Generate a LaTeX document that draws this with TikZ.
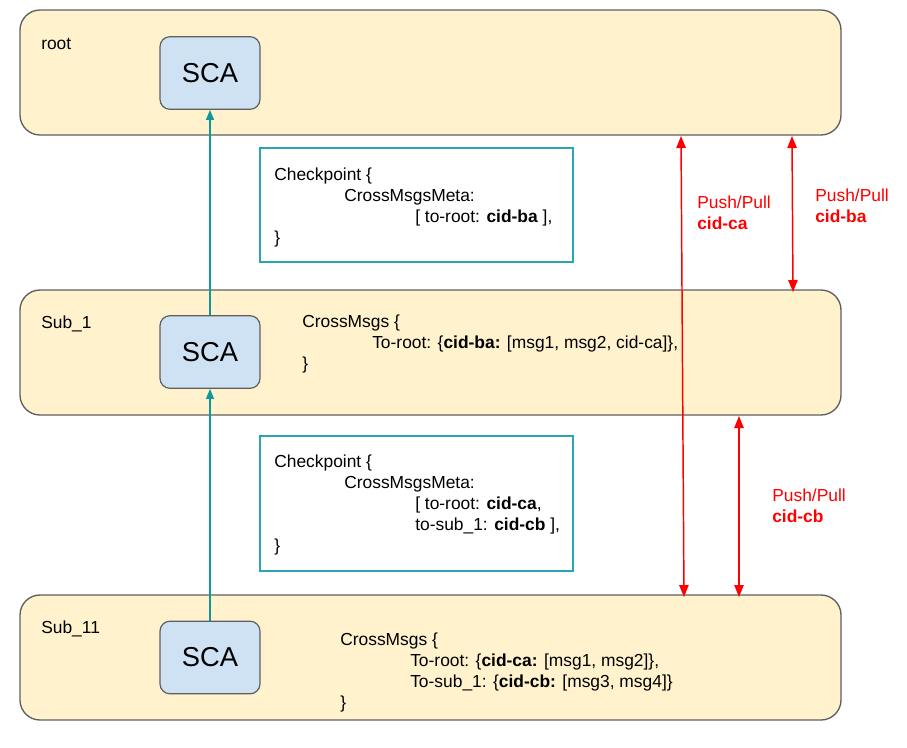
\documentclass[tikz,border=0pt]{standalone}
\usepackage{fontspec}
\setmainfont{Liberation Sans}
\usetikzlibrary{arrows.meta}
\definecolor{lanefill}{HTML}{FFF2CC}
\definecolor{lanedraw}{HTML}{5F5F5F}
\definecolor{scafill}{HTML}{CFE2F3}
\definecolor{tealarrow}{HTML}{10989F}
\definecolor{tealbox}{HTML}{2AA5B5}
\definecolor{pushred}{HTML}{FF0000}
\tikzset{
  lane/.style={draw=lanedraw, fill=lanefill, line width=1pt, rounded corners=15pt},
  scabox/.style={draw=lanedraw, fill=scafill, line width=0.9pt, rounded corners=7.5pt},
  cpbox/.style={draw=tealbox, fill=white, line width=1pt},
  txt/.style={anchor=base west, inner sep=0pt, font=\fontsize{13.05}{15}\selectfont},
  redtxt/.style={txt, text=pushred},
  scatxt/.style={inner sep=0pt, font=\fontsize{20.5}{24}\selectfont},
  upar/.style={draw=tealarrow, line width=1.1pt, -{Triangle[length=7.5pt,width=6pt]}},
  redar/.style={draw=pushred, line width=1.1pt, {Triangle[length=9pt,width=7pt]}-{Triangle[length=9pt,width=7pt]}}
}
\begin{document}
\begin{tikzpicture}[x=0.75pt,y=-0.75pt]
\useasboundingbox (0,0) rectangle (907,747);
% lanes
\path[lane] (20,10) rectangle (841,135);
\path[lane] (20,290) rectangle (841,415);
\path[lane] (20,595) rectangle (841,720);
\node[txt] (lroot) at (41,49) {root};
\node[txt] (lsub1) at (41,328) {Sub\_1};
\node[txt] (lsub11) at (41,633) {Sub\_11};
% SCA boxes
\node[scabox, minimum width=75pt, minimum height=54.5pt] (sca0) at (210,73) {};
\node[scabox, minimum width=75pt, minimum height=54.5pt] (sca1) at (210,352) {};
\node[scabox, minimum width=75pt, minimum height=54.5pt] (sca2) at (210,657.5) {};
\node[scatxt] (sca0t) at (sca0) {SCA};
\node[scatxt] (sca1t) at (sca1) {SCA};
\node[scatxt] (sca2t) at (sca2) {SCA};
% teal arrows
\draw[upar] (sca1.north) -- (sca0.south);
\draw[upar] (sca2.north) -- (sca1.south);
% checkpoint boxes
\path[cpbox] (260,148) rectangle (573,262);
\path[cpbox] (260,436) rectangle (573,571);
\node[txt] (c1a) at (274,180) {Checkpoint \{};
\node[txt] (c1b) at (344,201) {CrossMsgsMeta:};
\node[txt] (c1c) at (415,222) {[ to-root: \textbf{cid-ba} ],};
\node[txt] (c1d) at (274,243) {\}};
\node[txt] (c2a) at (274,467) {Checkpoint \{};
\node[txt] (c2b) at (344,488) {CrossMsgsMeta:};
\node[txt] (c2c) at (415,509) {[ to-root: \textbf{cid-ca},};
\node[txt] (c2d) at (415,530) {to-sub\_1: \textbf{cid-cb} ],};
\node[txt] (c2e) at (274,551) {\}};
% CrossMsgs texts
\node[txt] (m1a) at (302,327) {CrossMsgs \{};
\node[txt] (m1b) at (372,348) {To-root: \{\textbf{cid-ba:} [msg1, msg2, cid-ca]\},};
\node[txt] (m1c) at (302,369) {\}};
\node[txt] (m2a) at (340,645) {CrossMsgs \{};
\node[txt] (m2b) at (410,666) {To-root: \{\textbf{cid-ca:} [msg1, msg2]\},};
\node[txt] (m2c) at (410,687) {To-sub\_1: \{\textbf{cid-cb:} [msg3, msg4]\}};
\node[txt] (m2d) at (340,708) {\}};
% red arrows
\coordinate (ra1) at (681,136);
\coordinate (rb1) at (684,597);
\coordinate (ra2) at (792,136);
\coordinate (rb2) at (793,292);
\coordinate (ra3) at (739,416);
\coordinate (rb3) at (739,597);
\draw[redar] (ra1) -- (rb1);
\draw[redar] (ra2) -- (rb2);
\draw[redar] (ra3) -- (rb3);
\node[redtxt] (p1a) at (697,208) {Push/Pull};
\node[redtxt] (p1b) at (697,229) {\textbf{cid-ca}};
\node[redtxt] (p2a) at (815,201) {Push/Pull};
\node[redtxt] (p2b) at (815,222) {\textbf{cid-ba}};
\node[redtxt] (p3a) at (772,501) {Push/Pull};
\node[redtxt] (p3b) at (772,522) {\textbf{cid-cb}};
\end{tikzpicture}
\end{document}
